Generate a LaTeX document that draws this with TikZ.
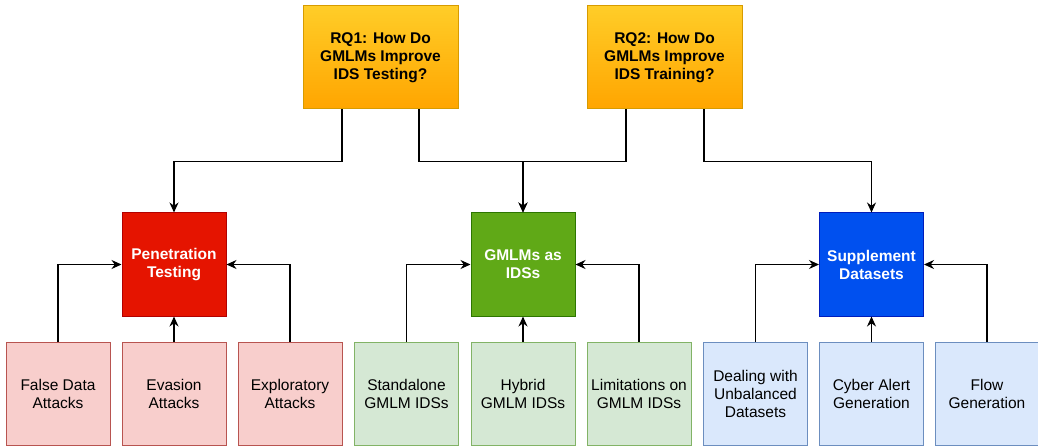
\documentclass[tikz,border=0pt]{standalone}
\usepackage{fontspec}
\setmainfont{Liberation Sans}
\usetikzlibrary{arrows.meta,calc}
\definecolor{topA}{HTML}{FFCD28}
\definecolor{topB}{HTML}{FFA500}
\definecolor{topS}{HTML}{D79B00}
\definecolor{redF}{HTML}{E51400}
\definecolor{redS}{HTML}{B20000}
\definecolor{grnF}{HTML}{60A917}
\definecolor{grnS}{HTML}{2D7600}
\definecolor{bluF}{HTML}{0050EF}
\definecolor{bluS}{HTML}{001DBC}
\definecolor{pinkF}{HTML}{F8CECC}
\definecolor{pinkS}{HTML}{B85450}
\definecolor{lgF}{HTML}{D5E8D4}
\definecolor{lgS}{HTML}{82B366}
\definecolor{lbF}{HTML}{DAE8FC}
\definecolor{lbS}{HTML}{6C8EBF}
\tikzset{
  base/.style={rectangle, align=center, inner sep=0pt, line width=1pt,
    font=\fontsize{15.5}{18}\selectfont},
  topbox/.style={base, minimum width=155pt, minimum height=103pt, draw=topS,
    top color=topA, bottom color=topB, font=\fontsize{15.5}{18}\selectfont\bfseries},
  midbox/.style={base, minimum width=104pt, minimum height=103pt, text=white,
    font=\fontsize{15.5}{18}\selectfont\bfseries},
  leaf/.style={base, minimum width=104pt, minimum height=103pt},
  arr/.style={draw=black, line width=1.2pt, -{Stealth[length=10pt,width=9pt]}},
}
\begin{document}
\begin{tikzpicture}[x=1pt,y=-1pt]
\useasboundingbox (0,0) rectangle (1038,446);
\node[topbox] (rq1) at (380.5,57.5) {RQ1: How Do\\GMLMs Improve\\IDS Testing?};
\node[topbox] (rq2) at (664.5,57.5) {RQ2: How Do\\GMLMs Improve\\IDS Training?};
\node[midbox, fill=redF, draw=redS] (pen) at (174,264.5) {Penetration\\Testing};
\node[midbox, fill=grnF, draw=grnS] (gml) at (523,264.5) {GMLMs as\\IDSs};
\node[midbox, fill=bluF, draw=bluS] (sup) at (871.5,264.5) {Supplement\\Datasets};
\node[leaf, fill=pinkF, draw=pinkS] (fd) at (58,393.5) {False Data\\Attacks};
\node[leaf, fill=pinkF, draw=pinkS] (ev) at (174,393.5) {Evasion\\Attacks};
\node[leaf, fill=pinkF, draw=pinkS] (ex) at (290,393.5) {Exploratory\\Attacks};
\node[leaf, fill=lgF, draw=lgS] (st) at (406.5,393.5) {Standalone\\GMLM IDSs};
\node[leaf, fill=lgF, draw=lgS] (hy) at (523,393.5) {Hybrid\\GMLM IDSs};
\node[leaf, fill=lgF, draw=lgS] (li) at (639,393.5) {Limitations on\\GMLM IDSs};
\node[leaf, fill=lbF, draw=lbS] (de) at (755.5,393.5) {Dealing with\\Unbalanced\\Datasets};
\node[leaf, fill=lbF, draw=lbS] (cy) at (871.5,393.5) {Cyber Alert\\Generation};
\node[leaf, fill=lbF, draw=lbS] (fl) at (987,393.5) {Flow\\Generation};
\draw[arr] ([xshift=-38.5pt]rq1.south) -- ++(0,52) -| (pen.north);
\draw[arr] ([xshift=38.5pt]rq1.south) -- ++(0,52) -| (gml.north);
\draw[arr] ([xshift=-38.5pt]rq2.south) -- ++(0,52) -| (gml.north);
\draw[arr] ([xshift=39.5pt]rq2.south) -- ++(0,52) -| (sup.north);
\draw[arr] (fd.north) |- (pen.west);
\draw[arr] (ev.north) -- (pen.south);
\draw[arr] (ex.north) |- (pen.east);
\draw[arr] (st.north) |- (gml.west);
\draw[arr] (hy.north) -- (gml.south);
\draw[arr] (li.north) |- (gml.east);
\draw[arr] (de.north) |- (sup.west);
\draw[arr] (cy.north) -- (sup.south);
\draw[arr] (fl.north) |- (sup.east);
\end{tikzpicture}
\end{document}
